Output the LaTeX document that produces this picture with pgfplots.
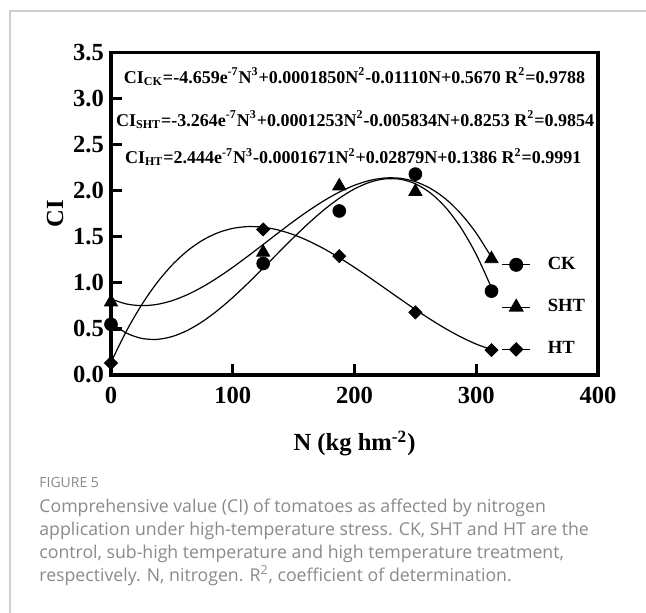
\documentclass[border=0pt]{standalone}
\usepackage{fontspec}
\setmainfont{Liberation Serif}
\newfontfamily\capfont{Open Sans}
\usepackage{pgfplots}
\pgfplotsset{compat=1.18}
\definecolor{capgray}{HTML}{8A8A8A}
\definecolor{framegray}{HTML}{D0D0D0}
\begin{document}
\begin{tikzpicture}[x=1pt,y=1pt]
\useasboundingbox (0,0) rectangle (323,306.5);
\draw[framegray, line width=0.6pt] (5,0) -- (5,301) -- (323,301);
\begin{axis}[
  at={(55.5pt,119pt)}, anchor=south west,
  scale only axis, width=243.5pt, height=161.25pt,
  xmin=0,xmax=400,ymin=0,ymax=3.5,
  xtick={0,100,200,300,400}, ytick={0,0.5,...,3.5},
  tick align=inside, tick pos=left,
  major tick length=5.5pt,
  axis line style={line width=1.8pt},
  every tick/.style={line width=1.6pt, black},
  /pgf/number format/assume math mode=true,
  ticklabel style={font=\fontsize{12.3}{14}\selectfont\bfseries},
  yticklabel style={/pgf/number format/.cd,fixed,fixed zerofill,precision=1},
  xticklabel style={yshift=-2.4pt},
  xlabel={N (kg hm\textsuperscript{-2})},
  ylabel={CI},
  label style={font=\fontsize{12.3}{14}\selectfont\bfseries},
  xlabel style={at={(axis description cs:0.5,-0.235)},anchor=base},
  ylabel style={at={(axis description cs:-0.115,0.5)},anchor=center},
  clip=false,
  legend image code/.code={\draw[mark repeat=2,mark phase=2] plot coordinates {(0pt,0pt) (7pt,0pt) (14pt,0pt)};},
  legend style={draw=none, fill=none, font=\fontsize{9.3}{11}\selectfont\bfseries,
    at={(axis cs:320.5,1.283)}, anchor=north west, row sep=13.5pt, inner sep=0pt,
    nodes={inner sep=0pt},
    /tikz/every odd column/.append style={column sep=8.5pt}},
  legend cell align=left,
]
% fitted curves (values of the printed cubic equations)
\addplot[black, line width=0.6pt, smooth, forget plot] coordinates {
(0,0.5670) (12.5,0.4563) (25,0.3978) (37.5,0.3863) (50,0.4163) (62.5,0.4822) (75,0.5786) (87.5,0.7000) (100,0.8411) (112.5,0.9963) (125,1.1601) (137.5,1.3273) (150,1.4921) (162.5,1.6492) (175,1.7932) (187.5,1.9185) (200,2.0198) (212.5,2.0915) (225,2.1282) (237.5,2.1245) (250,2.0748) (262.5,1.9738) (275,1.8158) (287.5,1.5957) (300,1.3077) (312.5,0.9466)};
\addplot[black, line width=0.6pt, smooth, forget plot] coordinates {
(0,0.8253) (12.5,0.7713) (25,0.7527) (37.5,0.7655) (50,0.8060) (62.5,0.8704) (75,0.9549) (87.5,1.0555) (100,1.1685) (112.5,1.2901) (125,1.4164) (137.5,1.5436) (150,1.6679) (162.5,1.7854) (175,1.8924) (187.5,1.9849) (200,2.0593) (212.5,2.1116) (225,2.1381) (237.5,2.1348) (250,2.0981) (262.5,2.0239) (275,1.9088) (287.5,1.7484) (300,1.5393) (312.5,1.2776)};
\addplot[black, line width=0.6pt, smooth, forget plot] coordinates {
(0,0.1386) (12.5,0.4729) (25,0.7577) (37.5,0.9961) (50,1.1909) (62.5,1.3449) (75,1.4610) (87.5,1.5421) (100,1.5910) (112.5,1.6106) (125,1.6037) (137.5,1.5733) (150,1.5222) (162.5,1.4532) (175,1.3693) (187.5,1.2732) (200,1.1678) (212.5,1.0561) (225,0.9408) (237.5,0.8249) (250,0.7111) (262.5,0.6024) (275,0.5017) (287.5,0.4117) (300,0.3350) (312.5,0.2756)};
% data points
\addplot[only marks, mark=*, mark size=3.2pt, black, forget plot] coordinates {
(0,0.55) (125,1.21) (187.5,1.78) (250,2.18) (312.5,0.91)};
\addplot[only marks, mark=triangle*, mark size=3.8pt, black, forget plot] coordinates {
(0,0.79) (125,1.33) (187.5,2.05) (250,1.99) (312.5,1.26)};
\addplot[only marks, mark=square*, mark options={rotate=45}, mark size=2.3pt, black, forget plot] coordinates {
(0,0.13) (125,1.58) (187.5,1.29) (250,0.68) (312.5,0.27)};
\addlegendimage{black, line width=0.6pt, mark=*, mark size=3.2pt}
\addlegendentry{CK}
\addlegendimage{black, line width=0.6pt, mark=triangle*, mark size=3.8pt}
\addlegendentry{SHT}
\addlegendimage{black, line width=0.6pt, mark=square*, mark options={rotate=45}, mark size=2.3pt}
\addlegendentry{HT}
\node[anchor=base, font=\fontsize{9.0}{11}\selectfont\bfseries, inner sep=0pt] at (axis cs:200,3.163)
  {CI\textsubscript{CK}=-4.659e\textsuperscript{-7}N\textsuperscript{3}+0.0001850N\textsuperscript{2}-0.01110N+0.5670 R\textsuperscript{2}=0.9788};
\node[anchor=base, font=\fontsize{9.0}{11}\selectfont\bfseries, inner sep=0pt] at (axis cs:200.5,2.696)
  {CI\textsubscript{SHT}=-3.264e\textsuperscript{-7}N\textsuperscript{3}+0.0001253N\textsuperscript{2}-0.005834N+0.8253 R\textsuperscript{2}=0.9854};
\node[anchor=base, font=\fontsize{9.0}{11}\selectfont\bfseries, inner sep=0pt] at (axis cs:199,2.293)
  {CI\textsubscript{HT}=2.444e\textsuperscript{-7}N\textsuperscript{3}-0.0001671N\textsuperscript{2}+0.02879N+0.1386 R\textsuperscript{2}=0.9991};
\end{axis}
\node[anchor=base west, inner sep=0pt, text=capgray, font=\capfont\fontsize{7}{8}\selectfont] at (19.5,62.5) {FIGURE 5};
\node[anchor=base west, inner sep=0pt, text=capgray, font=\capfont\fontsize{8.85}{11}\selectfont] at (19.5,50) {Comprehensive value (CI) of tomatoes as affected by nitrogen};
\node[anchor=base west, inner sep=0pt, text=capgray, font=\capfont\fontsize{8.85}{11}\selectfont] at (19.5,38.5) {application under high-temperature stress. CK, SHT and HT are the};
\node[anchor=base west, inner sep=0pt, text=capgray, font=\capfont\fontsize{8.85}{11}\selectfont] at (19.5,27) {control, sub-high temperature and high temperature treatment,};
\node[anchor=base west, inner sep=0pt, text=capgray, font=\capfont\fontsize{8.85}{11}\selectfont] at (19.5,15.5) {respectively. N, nitrogen. R\textsuperscript{2}, coefficient of determination.};
\end{tikzpicture}
\end{document}
